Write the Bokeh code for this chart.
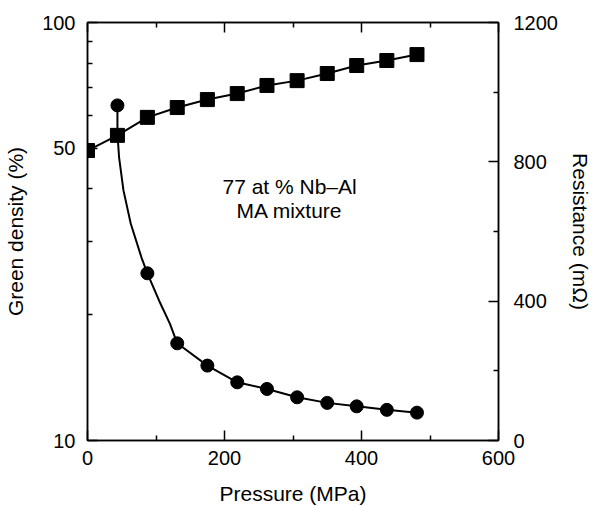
from bokeh.plotting import figure
from bokeh.models import (LinearAxis, Range1d, FixedTicker, PrintfTickFormatter, ColumnDataSource,
                          LinearScale, CustomLabelingPolicy)
from bokeh.core.properties import value
from bokeh.embed import file_html
from bokeh.resources import INLINE

# Green density (left, log axis)
pressure_density = [0, 43.7, 87.4, 131, 175, 218.6, 262, 306, 350, 393, 437, 481]
green_density = [49.4, 53.7, 59.3, 62.6, 65.4, 67.6, 70.7, 72.6, 75.5, 78.9, 81.1, 83.8]

# Resistance (right, linear axis)
pressure_res = [43.7, 87.4, 131, 175, 218.6, 262, 306, 350, 393, 437, 481]
resistance = [962, 480, 279, 215, 167, 148, 124, 108, 98, 88, 80]

# Fitted resistance curve
fit_pressure = [43.7, 43.7, 46.1, 52.5, 63.1, 78.7, 87.4, 104.4, 120.4, 131, 175, 218.6, 262, 306, 350, 393, 437, 481]
fit_resistance = [962, 881, 813, 718, 623, 526, 480, 402, 335, 279, 215, 167, 148, 124, 108, 98, 88, 80]

x_ticks = [0, 200, 400, 600]
x_minor = [100, 300, 500]
left_ticks = [10, 50, 100]
left_minor = [20, 30, 40, 60, 70, 80, 90]
right_ticks = [0, 400, 800, 1200]
right_minor = [200, 600, 1000]

ann_x = [295, 295]
ann_y = [40.5, 35.5]
ann_text = ["77 at % Nb\u2013Al", "MA mixture"]

FONT = "Liberation Sans"
TICK_FS = "20px"
TITLE_FS = "21px"

p = figure(width=595, height=507, x_range=Range1d(0, 600), y_range=Range1d(10, 100),
           y_axis_type="log", output_backend="svg", toolbar_location=None,
           min_border_left=87, min_border_right=97, min_border_top=22, min_border_bottom=67)
p.extra_y_ranges = {"res": Range1d(0, 1200)}
p.extra_y_scales = {"res": LinearScale()}
p.xgrid.visible = False
p.ygrid.visible = False
p.outline_line_color = "black"
p.outline_line_width = 1.5
p.background_fill_color = "white"
p.border_fill_color = "white"


def style_axis(ax, label=None, standoff=12, title_standoff=12):
    ax.axis_line_color = "black"
    ax.axis_line_width = 1.5
    ax.major_tick_line_color = "black"
    ax.major_tick_line_width = 1.5
    ax.minor_tick_line_color = "black"
    ax.minor_tick_line_width = 1.5
    ax.major_tick_out = 0
    ax.major_tick_in = 10
    ax.minor_tick_out = 0
    ax.minor_tick_in = 5
    ax.major_label_text_font = FONT
    ax.major_label_text_font_size = TICK_FS
    ax.major_label_text_color = "black"
    ax.major_label_standoff = standoff
    ax.axis_label = label
    ax.axis_label_text_font = FONT
    ax.axis_label_text_font_size = TITLE_FS
    ax.axis_label_text_font_style = "normal"
    ax.axis_label_text_color = "black"
    ax.axis_label_standoff = title_standoff


xax = p.xaxis[0]
xax.ticker = FixedTicker(ticks=x_ticks, minor_ticks=x_minor)
style_axis(xax, "Pressure (MPa)", standoff=10, title_standoff=14)

yax = p.yaxis[0]
yax.ticker = FixedTicker(ticks=left_ticks, minor_ticks=left_minor)
yax.formatter = PrintfTickFormatter(format="%d")
style_axis(yax, "Green density (%)", standoff=12, title_standoff=12)

# top axis: ticks only, no labels
top = LinearAxis(ticker=FixedTicker(ticks=x_ticks, minor_ticks=x_minor))
style_axis(top)
top.major_label_standoff = 0
top.major_label_policy = CustomLabelingPolicy(code="""
const all = Array.from(indices)
for (const i of all) indices.unset(i)
return indices
""")
p.add_layout(top, "above")

rax = LinearAxis(y_range_name="res", ticker=FixedTicker(ticks=right_ticks, minor_ticks=right_minor))
style_axis(rax, "Resistance (m\u03a9)", standoff=15, title_standoff=8)
p.add_layout(rax, "right")

# Green density: squares joined by straight lines
p.line(pressure_density, green_density, line_color="black", line_width=2)
p.scatter(pressure_density, green_density, marker="square", size=14,
          fill_color="black", line_color="black")

# Resistance: fitted curve and circles
p.line(fit_pressure, fit_resistance, line_color="black", line_width=2, y_range_name="res")
p.scatter(pressure_res, resistance, marker="circle", size=13,
          fill_color="black", line_color="black", y_range_name="res")

src = ColumnDataSource(dict(x=ann_x, y=ann_y, t=ann_text))
p.text(x="x", y="y", text="t", source=src, text_font=value(FONT), text_font_size=TITLE_FS,
       text_align="center", text_baseline="middle", text_color="black")

open("out.html", "w").write(file_html(p, INLINE))
